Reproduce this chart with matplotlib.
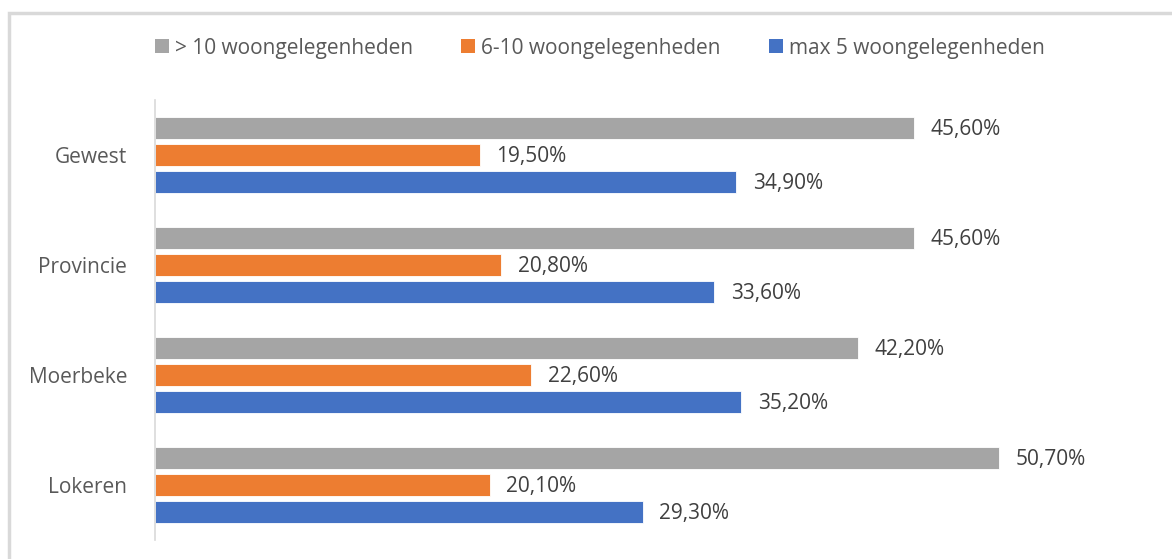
import matplotlib.pyplot as plt
from matplotlib.patches import Patch, Rectangle
import numpy as np

# Data
categories = ["Gewest", "Provincie", "Moerbeke", "Lokeren"]
series_names = ["> 10 woongelegenheden", "6-10 woongelegenheden", "max 5 woongelegenheden"]
gt10 = [45.6, 45.6, 42.2, 50.7]
six_ten = [19.5, 20.8, 22.6, 20.1]
max5 = [34.9, 33.6, 35.2, 29.3]

COLORS = ["#A5A5A5", "#ED7D31", "#4472C4"]
FONT = "Open Sans"
FS = 15

W, H = 1172, 559
fig = plt.figure(figsize=(W / 100, H / 100), dpi=100)
plt.rcParams['font.family'] = [FONT, 'DejaVu Sans']

# light grey frame around the chart (right/bottom edges fall outside the picture)
fig.patches.append(Rectangle((9 / W, -0.1), 1.2, (H - 12.5) / H + 0.1,
                             transform=fig.transFigure, fill=False,
                             edgecolor="#D9D9D9", linewidth=2.5))

ax = fig.add_axes([155 / W, (H - 540) / H, 999 / W, 440 / H])

y = np.arange(len(categories))
bar_h = 0.2
step = 0.245
values = [gt10, six_ten, max5]
for k, (vals, col) in enumerate(zip(values, COLORS)):
    pos = y + (k - 1) * step
    bars = ax.barh(pos, vals, height=bar_h, color=col, edgecolor="white", linewidth=0.6)
    for b, v in zip(bars, vals):
        # labels sit a touch below the bar centre in the original
        ax.text(v + 1.0, b.get_y() + b.get_height() / 2 + 0.015,
                ("%.2f%%" % v).replace(".", ","),
                va="center", ha="left", fontsize=FS, color="#404040")

ax.set_xlim(0, 60)
ax.set_ylim(len(categories) - 0.5, -0.5)
ax.set_yticks(y)
ax.set_yticklabels(categories, fontsize=FS, color="#595959")
ax.tick_params(axis="y", length=0, pad=20)
ax.set_xticks([])
for s in ["top", "right", "bottom"]:
    ax.spines[s].set_visible(False)
ax.spines["left"].set_color("#D9D9D9")
ax.spines["left"].set_linewidth(1.2)

handles = [Patch(facecolor=c, edgecolor="none") for c in COLORS]
fig.legend(handles, series_names, loc="center", bbox_to_anchor=(600 / W, 1 - 48 / H),
           ncol=3, frameon=False, fontsize=FS, labelcolor="#595959",
           handlelength=0.67, handleheight=0.67, handletextpad=0.3, columnspacing=2.3)

fig.savefig("out.png", dpi=100)
